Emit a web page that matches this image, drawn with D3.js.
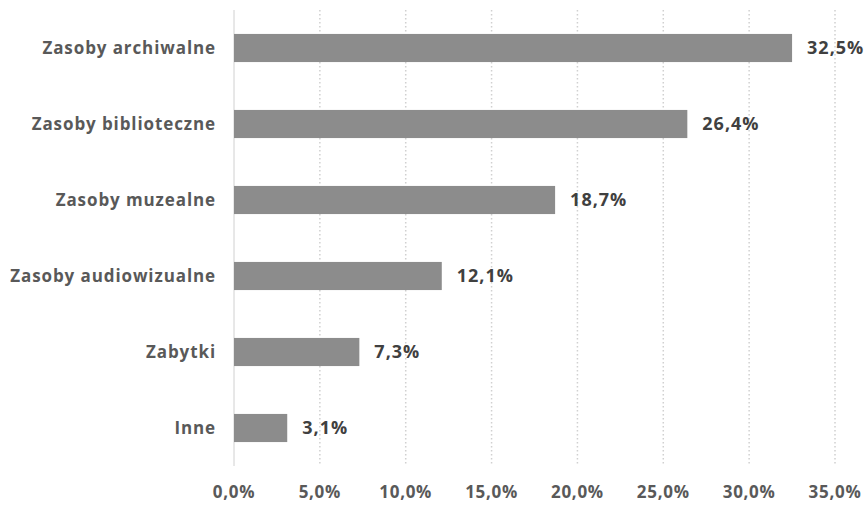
<!DOCTYPE html>
<html>
<head>
<meta charset="utf-8">
<script src="https://cdn.jsdelivr.net/npm/d3@7"></script>
<style>
  body { margin: 0; background: #fff; }
  text { font-family: "Open Sans", sans-serif; font-weight: bold; }
</style>
</head>
<body>
<svg id="chart"></svg>
<script>
const categories = ['Zasoby archiwalne', 'Zasoby biblioteczne', 'Zasoby muzealne',
  'Zasoby audiowizualne', 'Zabytki', 'Inne'];
const values = [32.5, 26.4, 18.7, 12.1, 7.3, 3.1];
const ticks = [0, 5, 10, 15, 20, 25, 30, 35];

const size = {w: 867, h: 505};
const margin = {t: 10, r: 32, b: 39, l: 234};
const svg = d3.select('svg#chart')
    .attr('width', size.w)
    .attr('height', size.h);

const w = size.w - margin.l - margin.r;
const h = size.h - margin.t - margin.b;
const g = svg.append('g').attr('transform', `translate(${margin.l}, ${margin.t})`);

const x = d3.scaleLinear().domain([0, 35]).range([0, w]);
const y = d3.scaleBand().domain(categories).range([0, h]).paddingInner(0.63).paddingOuter(0.315);

const fmt = v => v.toFixed(1).replace('.', ',') + '%';

// gridlines
g.selectAll('line.grid')
    .data(ticks.slice(1))
    .join('line')
    .attr('class', 'grid')
    .attr('x1', d => x(d)).attr('x2', d => x(d))
    .attr('y1', 0).attr('y2', h)
    .attr('stroke', '#d0d0d0')
    .attr('stroke-width', 1.5)
    .attr('stroke-dasharray', '1.5,2.5');

// axis line
g.append('line')
    .attr('x1', 0).attr('x2', 0)
    .attr('y1', 0).attr('y2', h)
    .attr('stroke', '#d0d0d0');

// tick labels
g.selectAll('text.tick')
    .data(ticks)
    .join('text')
    .attr('class', 'tick')
    .attr('x', d => x(d))
    .attr('y', h + 32)
    .attr('text-anchor', 'middle')
    .attr('font-size', 17)
    .attr('letter-spacing', 0.7)
    .attr('fill', '#595959')
    .text(d => fmt(d));

// bars
g.selectAll('rect')
    .data(values)
    .join('rect')
    .attr('x', 0)
    .attr('y', (d, i) => y(categories[i]))
    .attr('width', d => x(d))
    .attr('height', y.bandwidth())
    .attr('fill', '#8c8c8c');

// category labels
g.selectAll('text.cat')
    .data(categories)
    .join('text')
    .attr('class', 'cat')
    .attr('x', -18)
    .attr('y', d => y(d) + y.bandwidth() / 2)
    .attr('dy', '0.35em')
    .attr('text-anchor', 'end')
    .attr('font-size', 17)
    .attr('letter-spacing', 0.9)
    .attr('fill', '#595959')
    .text(d => d);

// value labels
g.selectAll('text.val')
    .data(values)
    .join('text')
    .attr('class', 'val')
    .attr('x', d => x(d) + 15)
    .attr('y', (d, i) => y(categories[i]) + y.bandwidth() / 2)
    .attr('dy', '0.35em')
    .attr('font-size', 18)
    .attr('letter-spacing', 1)
    .attr('fill', '#404040')
    .text(d => fmt(d));
</script>
</body>
</html>
